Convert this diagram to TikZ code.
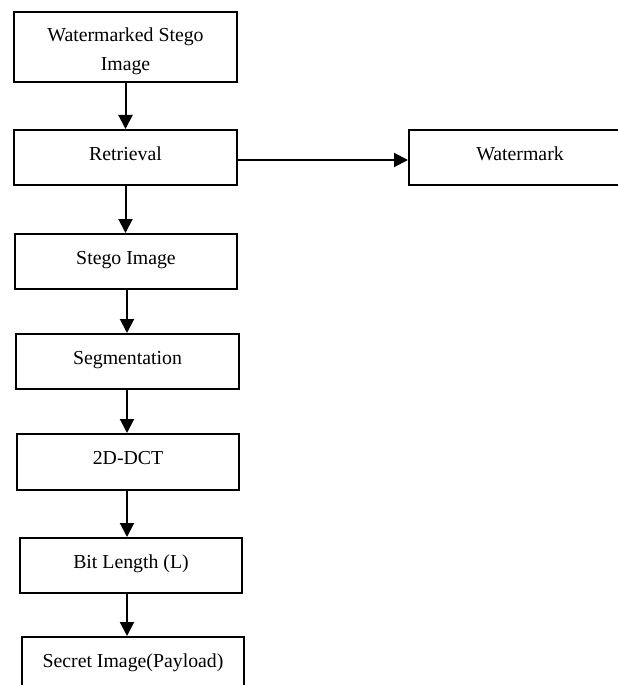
\documentclass[tikz,border=0pt]{standalone}
\usepackage{fontspec}
\setmainfont{Liberation Serif}
\usetikzlibrary{arrows.meta,positioning,calc}
\begin{document}
\begin{tikzpicture}[x=1bp,y=-1bp,
  box/.style={draw,line width=2bp,rectangle,inner sep=0pt,minimum width=222bp,
    text height=30bp,text depth=25bp,align=center,anchor=north west,
    font=\fontsize{19.8bp}{28bp}\selectfont},
  arr/.style={line width=2bp,-{Triangle[length=14bp,width=14bp]}}]
\useasboundingbox (0,0) rectangle (618,685);
\clip (0,0) rectangle (618,685);
\node[box,text height=58bp,text depth=12bp,minimum width=223bp] (b1) at (13,11) {Watermarked Stego\\Image};
\node[box,minimum width=223bp] (b2) at (13,129) {Retrieval};
\node[box,minimum width=222bp] (w) at (408,129) {Watermark};
\node[box] (b3) at (14,233) {Stego Image};
\node[box,minimum width=223bp] (b4) at (15,333) {Segmentation};
\node[box,text depth=26bp] (b5) at (16,433) {2D-DCT};
\node[box] (b6) at (19,537) {Bit Length (L)};
\node[box,text depth=40bp] (b7) at (21,636) {Secret Image(Payload)};
\draw[arr] (b1.south) -- (b1.south |- b2.north);
\draw[arr] (b2.south) -- (b2.south |- b3.north);
\draw[arr] ([xshift=1bp]b3.south) -- ([xshift=1bp]b3.south |- b4.north);
\draw[arr] ([xshift=-0.5bp]b4.south) -- ([xshift=-0.5bp]b4.south |- b5.north);
\draw[arr] ([xshift=-1bp]b5.south) -- ([xshift=-1bp]b5.south |- b6.north);
\draw[arr] ([xshift=-4bp]b6.south) -- ([xshift=-4bp]b6.south |- b7.north);
\draw[arr] ([yshift=-2.5bp]b2.east) -- ([yshift=-2.5bp]b2.east -| w.west);
\end{tikzpicture}
\end{document}
